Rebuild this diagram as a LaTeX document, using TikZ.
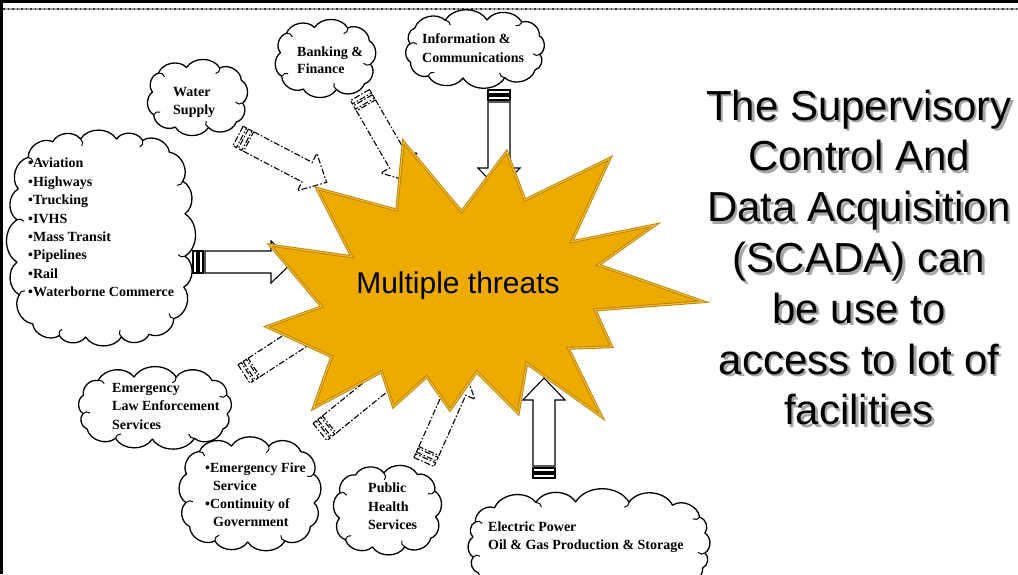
\documentclass[tikz,border=0pt]{standalone}
\usepackage{fontspec}
\setmainfont{Liberation Serif}
\newfontfamily\arialf{Liberation Sans}
\usetikzlibrary{calc}
\definecolor{stargold}{HTML}{EDAB00}
\definecolor{stardark}{HTML}{B88300}
\definecolor{starlight}{HTML}{F0BE3C}
\newcommand\shtext[1]{\leavevmode\rlap{\kern2.5pt\raisebox{-2.5pt}{\textcolor{black!35}{#1}}}#1}
\tikzset{
  cloudline/.style={draw=black, line width=1.3pt, line join=round},
  pics/cloudy/.style n args={4}{code={
    \draw[cloudline] ({#1*sign(cos(1.836))*pow(abs(cos(1.836))+0.001,#4)},{#2*sign(sin(1.836))*pow(abs(sin(1.836))+0.001,#4)})
      \foreach \k [evaluate=\k as \t using {360*\k/#3+7-11*sin(4*(360*\k/#3+7))}] in {1,...,#3} {
        to[bend left=58] ({#1*sign(cos(\t))*pow(abs(cos(\t))+0.001,#4)},{#2*sign(sin(\t))*pow(abs(sin(\t))+0.001,#4)})
      };
    \foreach \k [evaluate=\k as \t using {360*\k/#3+7-11*sin(4*(360*\k/#3+7))}] in {2,4,...,#3} {
      \coordinate (cp) at ({#1*sign(cos(\t))*pow(abs(cos(\t))+0.001,#4)},{#2*sign(sin(\t))*pow(abs(sin(\t))+0.001,#4)});
      \draw[cloudline, line width=1pt] (cp) to[bend left=45] ($(cp)!7pt!(0,0)$);
    }
  }},
  cloudtext/.style={font=\bfseries\fontsize{14}{18.4}\selectfont, align=left, anchor=north west, inner sep=0pt},
  dasharrow/.style={line width=1.1pt, dash pattern=on 6pt off 2pt on 1.5pt off 2pt},
  solidarrow/.style={line width=1.1pt},
  blockarrow/.pic={
    \draw (0,-11) rectangle (4,11);
    \draw (6,-11) rectangle (10,11);
    \draw (12,-11) -- (78,-11) -- (78,-21) -- (100,0) -- (78,21) -- (78,11) -- (12,11) -- cycle;
  },
  bigtext/.style={font=\arialf\fontsize{42}{50.8}\selectfont, align=center, anchor=north, inner sep=0pt}
}
\begin{document}
\begin{tikzpicture}[x={(1pt,0)}, y={(0,-1pt)}]
\clip (0,0) rectangle (1018,574);
\fill[white] (0,0) rectangle (1018,574);
% frame
\fill[black] (0,0) rectangle (1018,3);
\fill[black] (0,0) rectangle (3,574);
\draw[gray!70, line width=2.2pt] (3,8.7) -- (1018,8.7);
\draw[black!80, line width=2.2pt, dash pattern=on 1.5pt off 3pt] (3,8.7) -- (1018,8.7);

% clouds
\pic at (197.5,97.5) {cloudy={45}{30}{10}{0.5}};
\pic at (325.5,58.5) {cloudy={45}{31}{10}{0.5}};
\pic at (475,49) {cloudy={65}{29}{12}{0.5}};
\pic at (101,238) {cloudy={84}{99}{20}{0.5}};
\pic at (155,408) {cloudy={72}{31}{13}{0.5}};
\pic at (250,494) {cloudy={64}{48}{13}{0.5}};
\pic at (387.5,510) {cloudy={48}{37}{11}{0.5}};
\pic at (589,545) {cloudy={116}{43}{18}{0.5}};

% cloud texts
\node[cloudtext, font=\bfseries\fontsize{14}{18}\selectfont] (watert) at (173,87) {Water\\Supply};
\node[cloudtext, font=\bfseries\fontsize{14}{17}\selectfont] (bankt) at (297,47) {Banking \&\\Finance};
\node[cloudtext, font=\bfseries\fontsize{14}{19}\selectfont] (infot) at (422,33) {Information \&\\Communications};
\node[cloudtext] (transt) at (28,158) {•Aviation\\•Highways\\•Trucking\\•IVHS\\•Mass Transit\\•Pipelines\\•Rail\\•Waterborne Commerce};
\node[cloudtext, font=\bfseries\fontsize{14}{18.5}\selectfont] (lawt) at (112,383) {Emergency\\Law Enforcement\\Services};
\node[cloudtext, font=\bfseries\fontsize{14}{18}\selectfont] (firet) at (205,463) {•Emergency Fire\\\hspace*{8pt}Service\\•Continuity of\\\hspace*{8pt}Government};
\node[cloudtext, font=\bfseries\fontsize{14}{18.5}\selectfont] (healtht) at (368,483) {Public\\Health\\Services};
\node[cloudtext, font=\bfseries\fontsize{14}{18}\selectfont] (powert) at (488,522) {Electric Power\\Oil \& Gas Production \& Storage};

% block arrows
\pic[dasharrow, rotate=-27.6] at (238,136) {blockarrow};
\pic[dasharrow, rotate=-60] at (360,95) {blockarrow};
\pic[solidarrow, rotate=-90] at (499,90) {blockarrow};
\pic[solidarrow] at (193,262) {blockarrow};
\pic[dasharrow, rotate=33] at (244,374) {blockarrow};
\pic[dasharrow, rotate=39] at (320,432) {blockarrow};
\pic[dasharrow, rotate=66] at (424,462) {blockarrow};
\pic[solidarrow, rotate=90] at (544,478) {blockarrow};

% star
\draw[fill=stargold, draw=stardark, double=starlight, double distance=1.1pt, line width=0.9pt, line join=miter]
 (403.3,141.7) -- (461.7,211.7) -- (506.7,151.7) -- (525,200) -- (610,158.3) -- (571.7,241.7)
 -- (655,225) -- (598.3,265) -- (703.3,301.7) -- (595,310) -- (611.7,346.7) -- (568.3,348.3)
 -- (601.7,416.7) -- (526.7,363.3) -- (518.3,413.3) -- (476.7,371.7) -- (450,410) -- (426.7,376.7)
 -- (393.3,406.7) -- (381.7,371.7) -- (313.3,408.3) -- (331.7,356.7) -- (266.7,326.7) -- (321.7,306.7)
 -- (270,245) -- (351.7,256.7) -- (316.7,188.3) -- (396.7,210) -- cycle;
\node[font=\arialf\fontsize{30}{36}\selectfont, inner sep=0pt] (threats) at (458,285.5) {Multiple threats};

% right text
\node[bigtext] (scada) at (859,89.5) {\shtext{The Supervisory}\\\shtext{Control And}\\\shtext{Data Acquisition}\\\shtext{(SCADA) can}\\\shtext{be use to}\\\shtext{access to lot of}\\\shtext{facilities}};
\end{tikzpicture}
\end{document}
